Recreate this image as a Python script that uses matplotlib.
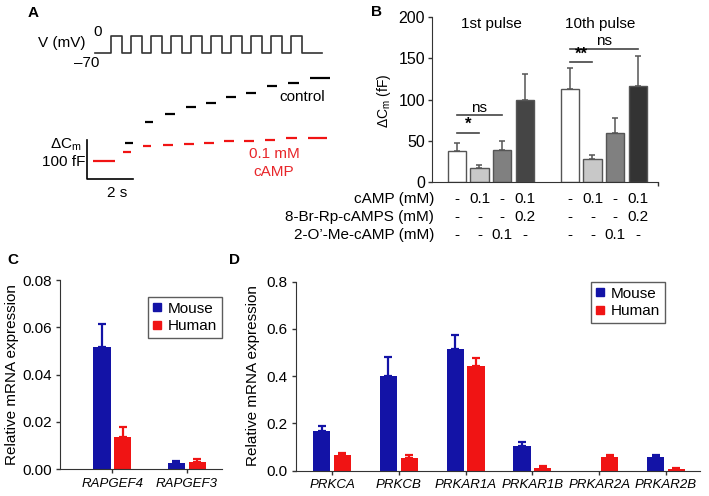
import numpy as np
import matplotlib
matplotlib.use("Agg")
import matplotlib.pyplot as plt
from matplotlib.lines import Line2D
from matplotlib.transforms import blended_transform_factory

plt.rcParams["font.family"] = ["Liberation Sans", "DejaVu Sans"]
plt.rcParams["mathtext.fontset"] = "custom"
plt.rcParams["mathtext.rm"] = "Liberation Sans"
plt.rcParams["mathtext.it"] = "Liberation Sans:italic"

W, H = 709, 496

# ── Panel A: example traces ────────────────────────────────────────────────
pulse_on = [0.68, 1.55, 2.42, 3.29, 4.16, 5.03, 5.90, 6.77, 7.64, 8.51]  # s
pulse_dur = 0.48
v_start, v_end = 0.0, 9.86
v_rest, v_step = -70, 0

base_t = (-0.09, 0.87)
seg_t0 = [1.30, 2.17, 3.04, 3.96, 4.83, 5.70, 6.57, 7.48, 8.39, 9.35]
seg_t1 = [1.65, 2.52, 3.48, 4.39, 5.26, 6.13, 7.00, 7.91, 8.87, 10.20]
cm_control = [47, 100, 120, 139, 150, 165, 174, 192, 201, 212]   # fF
cm_camp = [24, 38, 42, 44, 47, 51, 52, 55, 59, 58]

# ── Panel B: bar summary ───────────────────────────────────────────────────
b_pos = [1, 2, 3, 4, 6, 7, 8, 9]
b_vals = [38, 17, 39, 99, 113, 28, 60, 117]
b_err = [9, 4, 11, 32, 25, 5, 18, 36]
b_colors = ["white", "#c8c8c8", "#808080", "#454545",
            "white", "#c8c8c8", "#808080", "#333333"]
row_labels = ["cAMP (mM)", "8-Br-Rp-cAMPS (mM)", "2-O\u2019-Me-cAMP (mM)"]
row_camp = ["-", "0.1", "-", "0.1", "-", "0.1", "-", "0.1"]
row_brrp = ["-", "-", "-", "0.2", "-", "-", "-", "0.2"]
row_ome = ["-", "-", "0.1", "-", "-", "-", "0.1", "-"]
sig_lines = [(1, 2, 60, "*"), (1, 3, 81, "ns"), (6, 7, 145, "**"), (6, 9, 161, "ns")]

# ── Panels C and D: qPCR ───────────────────────────────────────────────────
genes_c = ["RAPGEF4", "RAPGEF3"]
c_mouse = [0.0515, 0.0028]
c_mouse_err = [0.0097, 0.0008]
c_human = [0.0135, 0.0032]
c_human_err = [0.0043, 0.0010]

genes_d = ["PRKCA", "PRKCB", "PRKAR1A", "PRKAR1B", "PRKAR2A", "PRKAR2B"]
d_mouse = [0.170, 0.400, 0.515, 0.105, 0.0, 0.058]
d_mouse_err = [0.020, 0.080, 0.060, 0.015, 0.0, 0.007]
d_human = [0.068, 0.055, 0.445, 0.012, 0.058, 0.008]
d_human_err = [0.008, 0.010, 0.033, 0.006, 0.008, 0.004]

BLUE = "#1313a6"
RED = "#f01414"
TXT_RED = "#e8262a"


def box(l, t, r, b):
    return [l / W, 1 - b / H, (r - l) / W, (b - t) / H]


def ftext(x, y, s, **kw):
    fig.text(x / W, 1 - y / H, s, **kw)


fig = plt.figure(figsize=(W / 100, H / 100), dpi=100)

# ─────────────────────────────────────────────────────────────────────────────
# A
# ─────────────────────────────────────────────────────────────────────────────
axv = fig.add_axes(box(80, 25, 340, 60))
axv.set_xlim(-0.652, 10.652)
axv.set_ylim(-96.6, 42.6)
axv.axis("off")
vt, vy = [v_start], [v_rest]
for on in pulse_on:
    vt += [on, on, on + pulse_dur, on + pulse_dur]
    vy += [v_rest, v_step, v_step, v_rest]
vt.append(v_end)
vy.append(v_rest)
axv.plot(vt, vy, color="#333333", lw=1.2)

axc = fig.add_axes(box(80, 60, 340, 190))
axc.set_xlim(-0.652, 10.652)
axc.set_ylim(-74.4, 259)
axc.axis("off")
axc.plot(base_t, [0, 0], color=RED, lw=1.6, solid_capstyle="butt")
for t0, t1, yc, yr in zip(seg_t0, seg_t1, cm_control, cm_camp):
    axc.plot([t0, t1], [yc, yc], color="black", lw=1.6, solid_capstyle="butt")
    axc.plot([t0 - 0.1, t1 - 0.1], [yr, yr], color=RED, lw=1.6, solid_capstyle="butt")
# scale bar 100 fF / 2 s
sb_x, sb_y = -0.35, -46
axc.plot([sb_x, sb_x, sb_x + 2], [sb_y + 100, sb_y, sb_y], color="black", lw=1.2)

ftext(33, 13, "A", fontsize=11, fontweight="bold", ha="center", va="center")
ftext(62, 43, "V (mV)", fontsize=11, ha="center", va="center")
ftext(98, 32, "0", fontsize=11, ha="center", va="center")
ftext(87, 63, "\u201370", fontsize=11, ha="center", va="center")
ftext(82, 145, "\u0394C$_\\mathrm{m}$", fontsize=11, ha="right", va="center")
ftext(85, 162, "100 fF", fontsize=11, ha="right", va="center")
ftext(117, 193, "2 s", fontsize=11, ha="center", va="center")
ftext(302, 97, "control", fontsize=11, ha="center", va="center")
ftext(274, 154, "0.1 mM", fontsize=11, ha="center", va="center", color=TXT_RED)
ftext(274, 172, "cAMP", fontsize=11, ha="center", va="center", color=TXT_RED)

# ─────────────────────────────────────────────────────────────────────────────
# B
# ─────────────────────────────────────────────────────────────────────────────
axb = fig.add_axes(box(432, 17, 658, 182.3))
axb.set_xlim(-0.1, 9.9)
axb.set_ylim(0, 200)
for s in ["top", "right"]:
    axb.spines[s].set_visible(False)
for s in ["left", "bottom"]:
    axb.spines[s].set_color("#333333")
axb.errorbar(b_pos, b_vals, yerr=[np.zeros(len(b_err)), b_err], fmt="none",
             ecolor="#555555", elinewidth=1.1, capsize=2.5, capthick=1.1, zorder=1)
axb.bar(b_pos, b_vals, width=0.8, color=b_colors, edgecolor="#555555",
        linewidth=1.0, zorder=2)
axb.set_yticks([0, 50, 100, 150, 200])
axb.set_xticks([9.9])
axb.set_xticklabels([""])
axb.tick_params(axis="both", direction="out", length=3, width=1, colors="#333333",
                labelsize=11.5, pad=2)
axb.tick_params(axis="y", labelcolor="black")
for x0, x1, y, s in sig_lines:
    axb.plot([x0, x1], [y, y], color="#444444", lw=1.2)
    axb.text((x0 + x1) / 2, y + 1, s, fontsize=12 if "*" in s else 11,
             ha="center", va="bottom", fontweight="bold" if "*" in s else "normal")
axb.text(2.51, 191, "1st pulse", fontsize=11, ha="center", va="center")
axb.text(7.36, 192, "10th pulse", fontsize=11, ha="center", va="center")
ftext(384, 101, "\u0394C$_\\mathrm{m}$ (fF)", fontsize=10, rotation=90,
      ha="center", va="center")
ftext(377, 12, "B", fontsize=11, fontweight="bold", ha="center", va="center")

tb = blended_transform_factory(axb.transData, fig.transFigure)
for row_y, label, vals in zip([199, 217, 235], row_labels, [row_camp, row_brrp, row_ome]):
    ftext(434, row_y, label, fontsize=11, ha="right", va="center")
    for x, v in zip(b_pos, vals):
        axb.text(x, 1 - row_y / H, v, transform=tb, fontsize=11,
                 ha="center", va="center")


# ─────────────────────────────────────────────────────────────────────────────
# C & D
# ─────────────────────────────────────────────────────────────────────────────
def qpcr_panel(ax, genes, mouse, mouse_err, human, human_err, off, width):
    x = np.arange(len(genes))
    mouse = np.array(mouse)
    human = np.array(human)
    me = np.array(mouse_err)
    he = np.array(human_err)
    mm = mouse > 0
    hm = human > 0
    ax.errorbar(x[mm] - off, mouse[mm], yerr=[np.zeros(mm.sum()), me[mm]], fmt="none",
                ecolor=BLUE, elinewidth=1.6, capsize=3, capthick=1.6, zorder=1)
    ax.errorbar(x[hm] + off, human[hm], yerr=[np.zeros(hm.sum()), he[hm]], fmt="none",
                ecolor=RED, elinewidth=1.6, capsize=3, capthick=1.6, zorder=1)
    ax.bar(x - off, mouse, width=width, color=BLUE, zorder=2)
    ax.bar(x + off, human, width=width, color=RED, zorder=2)
    for s in ["top", "right"]:
        ax.spines[s].set_visible(False)
    for s in ["left", "bottom"]:
        ax.spines[s].set_color("#333333")
    ax.set_xticks(x)
    ax.set_xticklabels(genes, fontstyle="italic", fontsize=9.5)
    ax.tick_params(axis="both", direction="out", length=3, width=1, colors="#333333",
                   pad=3)
    ax.tick_params(axis="y", labelsize=11, labelcolor="black")
    ax.tick_params(axis="x", labelcolor="black")
    handles = [Line2D([], [], marker="s", ls="none", color=BLUE, markersize=6),
               Line2D([], [], marker="s", ls="none", color=RED, markersize=6)]
    return handles


axC = fig.add_axes(box(60, 280, 222, 469.3))
hC = qpcr_panel(axC, genes_c, c_mouse, c_mouse_err, c_human, c_human_err, 0.14, 0.235)
axC.set_xlim(-0.70, 1.47)
axC.set_ylim(0, 0.08)
axC.set_yticks([0, 0.02, 0.04, 0.06, 0.08])
axC.set_yticklabels([f"{v:.2f}" for v in [0, 0.02, 0.04, 0.06, 0.08]])
legC = axC.legend(hC, ["Mouse", "Human"], loc="upper right",
                  bbox_to_anchor=(222 / W, 1 - 297 / H), bbox_transform=fig.transFigure,
                  fontsize=11, frameon=True, fancybox=False, handlelength=0.6,
                  handletextpad=0.4, borderpad=0.3, labelspacing=0.25, borderaxespad=0)
legC.get_frame().set_edgecolor("#333333")
legC.get_frame().set_linewidth(1.0)
ftext(12, 375, "Relative mRNA expression", fontsize=11, rotation=90,
      ha="center", va="center")
ftext(13, 260, "C", fontsize=11, fontweight="bold", ha="center", va="center")

axD = fig.add_axes(box(296, 281.7, 700, 470.7))
hD = qpcr_panel(axD, genes_d, d_mouse, d_mouse_err, d_human, d_human_err, 0.155, 0.26)
axD.set_xlim(-0.54, 5.51)
axD.set_ylim(0, 0.8)
axD.set_yticks([0, 0.2, 0.4, 0.6, 0.8])
axD.set_yticklabels([f"{v:.1f}" for v in [0, 0.2, 0.4, 0.6, 0.8]])
legD = axD.legend(hD, ["Mouse", "Human"], loc="upper right",
                  bbox_to_anchor=(665 / W, 1 - 282 / H), bbox_transform=fig.transFigure,
                  fontsize=11, frameon=True, fancybox=False, handlelength=0.6,
                  handletextpad=0.4, borderpad=0.3, labelspacing=0.25, borderaxespad=0)
legD.get_frame().set_edgecolor("#333333")
legD.get_frame().set_linewidth(1.0)
ftext(253, 376, "Relative mRNA expression", fontsize=11, rotation=90,
      ha="center", va="center")
ftext(234, 260, "D", fontsize=11, fontweight="bold", ha="center", va="center")

fig.savefig("out.png", dpi=100)
